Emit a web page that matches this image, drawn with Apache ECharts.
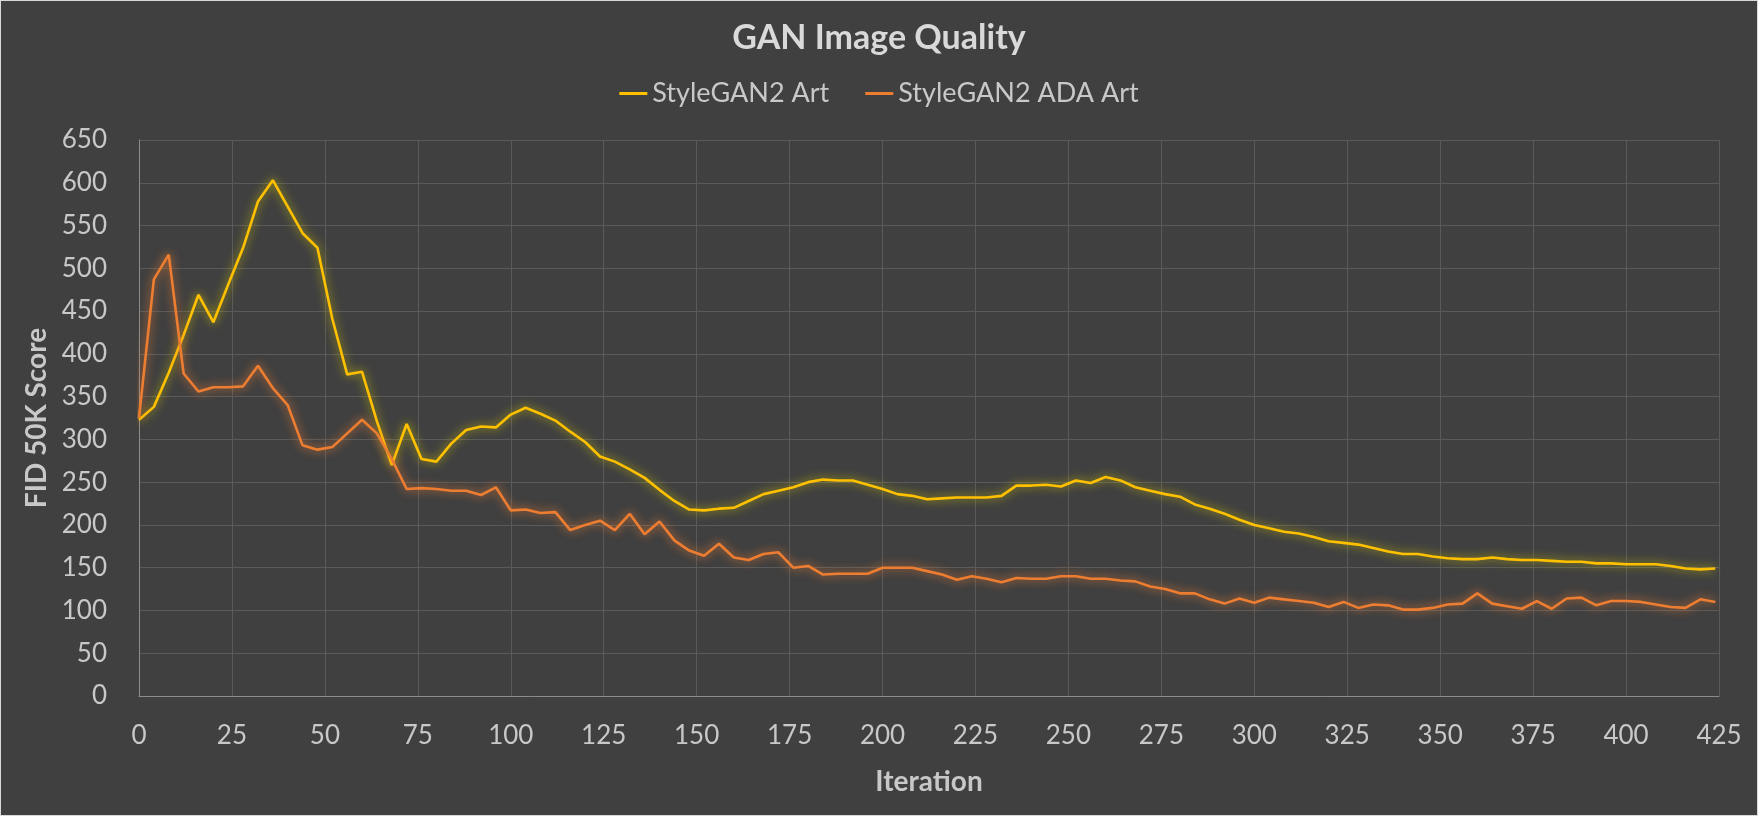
<!DOCTYPE html>
<html>
<head>
<meta charset="utf-8">
<script src="https://cdn.jsdelivr.net/npm/echarts@6/dist/echarts.min.js"></script>
<style>
html,body{margin:0;padding:0;background:#d9d9d9;}
#c{position:absolute;left:1px;top:1px;width:1756px;height:814px;background:#404040;}
</style>
</head>
<body>
<div id="c"></div>
<script>
const iterations = [0,4,8,12,16,20,24,28,32,36,40,44,48,52,56,60,64,68,72,76,80,84,88,92,96,100,
104,108,112,116,120,124,128,132,136,140,144,148,152,156,160,164,168,172,176,180,184,188,192,196,200,
204,208,212,216,220,224,228,232,236,240,244,248,252,256,260,264,268,272,276,280,284,288,292,296,300,
304,308,312,316,320,324,328,332,336,340,344,348,352,356,360,364,368,372,376,380,384,388,392,396,400,
404,408,412,416,420,424];
const styleGAN2Art = [323,338,378,422,469,437,481,524,578,603,572,541,524,441,376,379,321,270,318,277,274,
295,311,315,314,329,337,330,322,309,297,280,274,265,255,241,228,218,217,219,220,228,236,240,244,250,
253,252,252,247,242,236,234,230,231,232,232,232,234,246,246,247,245,252,249,256,252,244,240,236,233,
224,219,213,206,200,196,192,190,186,181,179,177,173,169,166,166,163,161,160,160,162,160,159,159,158,
157,157,155,155,154,154,154,152,149,148,149];
const styleGAN2AdaArt = [325,487,516,377,356,361,361,362,386,360,340,293,288,291,307,323,307,277,242,243,242,
240,240,235,244,217,218,214,215,194,200,205,194,213,189,204,182,170,164,178,162,159,166,168,150,152,
142,143,143,143,150,150,150,146,142,136,140,137,133,138,137,137,140,140,137,137,135,134,128,125,120,
120,113,108,114,109,115,113,111,109,104,110,103,107,106,101,101,103,107,108,120,108,105,102,111,102,
114,115,106,111,111,110,107,104,103,113,110];
const seriesNames = ['StyleGAN2 Art','StyleGAN2 ADA Art'];
const xTicks = {min:0, max:425, interval:25};
const yTicks = {min:0, max:650, interval:50};

const font = 'Lato, "Open Sans", sans-serif';
const chart = echarts.init(document.getElementById('c'), null, {renderer:'canvas'});
chart.setOption({
  backgroundColor:'#404040',
  animation:false,
  title:{text:'GAN Image Quality', left:'center', top:15,
    textStyle:{color:'#d9d9d9', fontSize:34, fontWeight:'bold', fontFamily:font}},
  legend:{top:74, left:'center', itemGap:36, itemWidth:28, itemHeight:3, icon:'rect',
    textStyle:{color:'#c8c8c8', fontSize:27, fontFamily:font},
    data:seriesNames},
  grid:{left:138, right:38, top:139, bottom:119, containLabel:false},
  xAxis:{type:'value', min:xTicks.min, max:xTicks.max, interval:xTicks.interval,
    name:'Iteration', nameLocation:'middle', nameGap:72,
    nameTextStyle:{color:'#c8c8c8', fontSize:28, fontWeight:'bold', fontFamily:font},
    axisLine:{show:true, lineStyle:{color:'#8c8c8c', width:1}},
    axisTick:{show:false},
    axisLabel:{color:'#c8c8c8', fontSize:26, margin:27, fontFamily:font},
    splitLine:{show:true, lineStyle:{color:'#5a5a5a', width:1}}},
  yAxis:{type:'value', min:yTicks.min, max:yTicks.max, interval:yTicks.interval,
    name:'FID 50K Score', nameLocation:'middle', nameGap:79,
    nameTextStyle:{color:'#c8c8c8', fontSize:28, fontWeight:'bold', fontFamily:font},
    axisLine:{show:true, lineStyle:{color:'#8c8c8c', width:1}},
    axisTick:{show:false},
    axisLabel:{color:'#c8c8c8', fontSize:26, margin:32, fontFamily:font},
    splitLine:{show:true, lineStyle:{color:'#5a5a5a', width:1}}},
  series:[
    {name:seriesNames[0], type:'line', showSymbol:false, symbol:'none',
     data:iterations.map((x,i)=>[x, styleGAN2Art[i]]),
     itemStyle:{color:'#FFC000'},
     lineStyle:{color:'#FFC000', width:2.6, shadowBlur:10, shadowColor:'rgba(200,190,0,1)'}},
    {name:seriesNames[1], type:'line', showSymbol:false, symbol:'none',
     data:iterations.map((x,i)=>[x, styleGAN2AdaArt[i]]),
     itemStyle:{color:'#ED7D31'},
     lineStyle:{color:'#ED7D31', width:2.6, shadowBlur:10, shadowColor:'rgba(237,125,49,1)'}}
  ]
});
</script>
</body>
</html>
